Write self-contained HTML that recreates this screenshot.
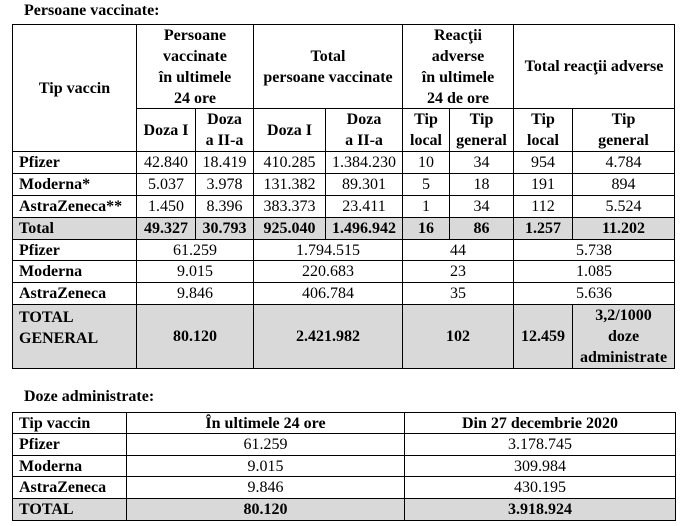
<!DOCTYPE html>
<html><head><meta charset="utf-8"><style>
body{margin:0;width:682px;height:526px;background:#fff;position:relative;font-family:"Liberation Serif",serif;font-size:16px;color:#000;overflow:hidden}
.c{position:absolute;box-sizing:border-box;border:1px solid #000;display:flex;align-items:center;justify-content:center;text-align:center;line-height:21px;white-space:nowrap}
.l{justify-content:flex-start;text-align:left;padding-left:6px}
.b{font-weight:bold}
.g{background:#d9d9d9}
.t{position:absolute;font-weight:bold;font-size:16px}
</style></head><body>
<div class="t" style="left:24px;top:2px">Persoane vaccinate:</div>
<div class="c b" style="left:12px;top:24px;width:125px;height:128px">Tip vaccin</div>
<div class="c b" style="left:136px;top:24px;width:118px;height:85px">Persoane<br>vaccinate<br>în ultimele<br>24 ore</div>
<div class="c b" style="left:253px;top:24px;width:150px;height:85px">Total<br>persoane vaccinate</div>
<div class="c b" style="left:402px;top:24px;width:112px;height:85px">Reacţii<br>adverse<br>în ultimele<br>24 de ore</div>
<div class="c b" style="left:513px;top:24px;width:162px;height:85px">Total reacţii adverse</div>
<div class="c b" style="left:136px;top:108px;width:60px;height:44px">Doza I</div>
<div class="c b" style="left:195px;top:108px;width:59px;height:44px">Doza<br>a II-a</div>
<div class="c b" style="left:253px;top:108px;width:73px;height:44px">Doza I</div>
<div class="c b" style="left:325px;top:108px;width:78px;height:44px">Doza<br>a II-a</div>
<div class="c b" style="left:402px;top:108px;width:48px;height:44px">Tip<br>local</div>
<div class="c b" style="left:449px;top:108px;width:65px;height:44px">Tip<br>general</div>
<div class="c b" style="left:513px;top:108px;width:60px;height:44px">Tip<br>local</div>
<div class="c b" style="left:572px;top:108px;width:103px;height:44px">Tip<br>general</div>

<div class="c l b" style="left:12px;top:151px;width:125px;height:23px">Pfizer</div>
<div class="c" style="left:136px;top:151px;width:60px;height:23px">42.840</div>
<div class="c" style="left:195px;top:151px;width:59px;height:23px">18.419</div>
<div class="c" style="left:253px;top:151px;width:73px;height:23px">410.285</div>
<div class="c" style="left:325px;top:151px;width:78px;height:23px">1.384.230</div>
<div class="c" style="left:402px;top:151px;width:48px;height:23px">10</div>
<div class="c" style="left:449px;top:151px;width:65px;height:23px">34</div>
<div class="c" style="left:513px;top:151px;width:60px;height:23px">954</div>
<div class="c" style="left:572px;top:151px;width:103px;height:23px">4.784</div>

<div class="c l b" style="left:12px;top:173px;width:125px;height:23px">Moderna*</div>
<div class="c" style="left:136px;top:173px;width:60px;height:23px">5.037</div>
<div class="c" style="left:195px;top:173px;width:59px;height:23px">3.978</div>
<div class="c" style="left:253px;top:173px;width:73px;height:23px">131.382</div>
<div class="c" style="left:325px;top:173px;width:78px;height:23px">89.301</div>
<div class="c" style="left:402px;top:173px;width:48px;height:23px">5</div>
<div class="c" style="left:449px;top:173px;width:65px;height:23px">18</div>
<div class="c" style="left:513px;top:173px;width:60px;height:23px">191</div>
<div class="c" style="left:572px;top:173px;width:103px;height:23px">894</div>

<div class="c l b" style="left:12px;top:195px;width:125px;height:23px">AstraZeneca**</div>
<div class="c" style="left:136px;top:195px;width:60px;height:23px">1.450</div>
<div class="c" style="left:195px;top:195px;width:59px;height:23px">8.396</div>
<div class="c" style="left:253px;top:195px;width:73px;height:23px">383.373</div>
<div class="c" style="left:325px;top:195px;width:78px;height:23px">23.411</div>
<div class="c" style="left:402px;top:195px;width:48px;height:23px">1</div>
<div class="c" style="left:449px;top:195px;width:65px;height:23px">34</div>
<div class="c" style="left:513px;top:195px;width:60px;height:23px">112</div>
<div class="c" style="left:572px;top:195px;width:103px;height:23px">5.524</div>

<div class="c l b g" style="left:12px;top:217px;width:125px;height:23px">Total</div>
<div class="c b g" style="left:136px;top:217px;width:60px;height:23px">49.327</div>
<div class="c b g" style="left:195px;top:217px;width:59px;height:23px">30.793</div>
<div class="c b g" style="left:253px;top:217px;width:73px;height:23px">925.040</div>
<div class="c b g" style="left:325px;top:217px;width:78px;height:23px">1.496.942</div>
<div class="c b g" style="left:402px;top:217px;width:48px;height:23px">16</div>
<div class="c b g" style="left:449px;top:217px;width:65px;height:23px">86</div>
<div class="c b g" style="left:513px;top:217px;width:60px;height:23px">1.257</div>
<div class="c b g" style="left:572px;top:217px;width:103px;height:23px">11.202</div>

<div class="c l b" style="left:12px;top:239px;width:125px;height:22px">Pfizer</div>
<div class="c" style="left:136px;top:239px;width:118px;height:22px">61.259</div>
<div class="c" style="left:253px;top:239px;width:150px;height:22px">1.794.515</div>
<div class="c" style="left:402px;top:239px;width:112px;height:22px">44</div>
<div class="c" style="left:513px;top:239px;width:162px;height:22px">5.738</div>

<div class="c l b" style="left:12px;top:260px;width:125px;height:23px">Moderna</div>
<div class="c" style="left:136px;top:260px;width:118px;height:23px">9.015</div>
<div class="c" style="left:253px;top:260px;width:150px;height:23px">220.683</div>
<div class="c" style="left:402px;top:260px;width:112px;height:23px">23</div>
<div class="c" style="left:513px;top:260px;width:162px;height:23px">1.085</div>

<div class="c l b" style="left:12px;top:282px;width:125px;height:23px">AstraZeneca</div>
<div class="c" style="left:136px;top:282px;width:118px;height:23px">9.846</div>
<div class="c" style="left:253px;top:282px;width:150px;height:23px">406.784</div>
<div class="c" style="left:402px;top:282px;width:112px;height:23px">35</div>
<div class="c" style="left:513px;top:282px;width:162px;height:23px">5.636</div>

<div class="c l b g" style="left:12px;top:304px;width:125px;height:65px;align-items:flex-start;padding-top:2px">TOTAL<br>GENERAL</div>
<div class="c b g" style="left:136px;top:304px;width:118px;height:65px">80.120</div>
<div class="c b g" style="left:253px;top:304px;width:150px;height:65px">2.421.982</div>
<div class="c b g" style="left:402px;top:304px;width:112px;height:65px">102</div>
<div class="c b g" style="left:513px;top:304px;width:60px;height:65px">12.459</div>
<div class="c b g" style="left:572px;top:304px;width:103px;height:65px">3,2/1000<br>doze<br>administrate</div>

<div class="t" style="left:24px;top:388px">Doze administrate:</div>
<div class="c l b" style="left:12px;top:412px;width:115px;height:22px">Tip vaccin</div>
<div class="c b" style="left:126px;top:412px;width:279px;height:22px">În ultimele 24 ore</div>
<div class="c b" style="left:404px;top:412px;width:272px;height:22px">Din 27 decembrie 2020</div>
<div class="c l b" style="left:12px;top:433px;width:115px;height:23px">Pfizer</div>
<div class="c" style="left:126px;top:433px;width:279px;height:23px">61.259</div>
<div class="c" style="left:404px;top:433px;width:272px;height:23px">3.178.745</div>
<div class="c l b" style="left:12px;top:455px;width:115px;height:22px">Moderna</div>
<div class="c" style="left:126px;top:455px;width:279px;height:22px">9.015</div>
<div class="c" style="left:404px;top:455px;width:272px;height:22px">309.984</div>
<div class="c l b" style="left:12px;top:476px;width:115px;height:23px">AstraZeneca</div>
<div class="c" style="left:126px;top:476px;width:279px;height:23px">9.846</div>
<div class="c" style="left:404px;top:476px;width:272px;height:23px">430.195</div>
<div class="c l b g" style="left:12px;top:498px;width:115px;height:23px">TOTAL</div>
<div class="c b g" style="left:126px;top:498px;width:279px;height:23px">80.120</div>
<div class="c b g" style="left:404px;top:498px;width:272px;height:23px">3.918.924</div>
</body></html>
